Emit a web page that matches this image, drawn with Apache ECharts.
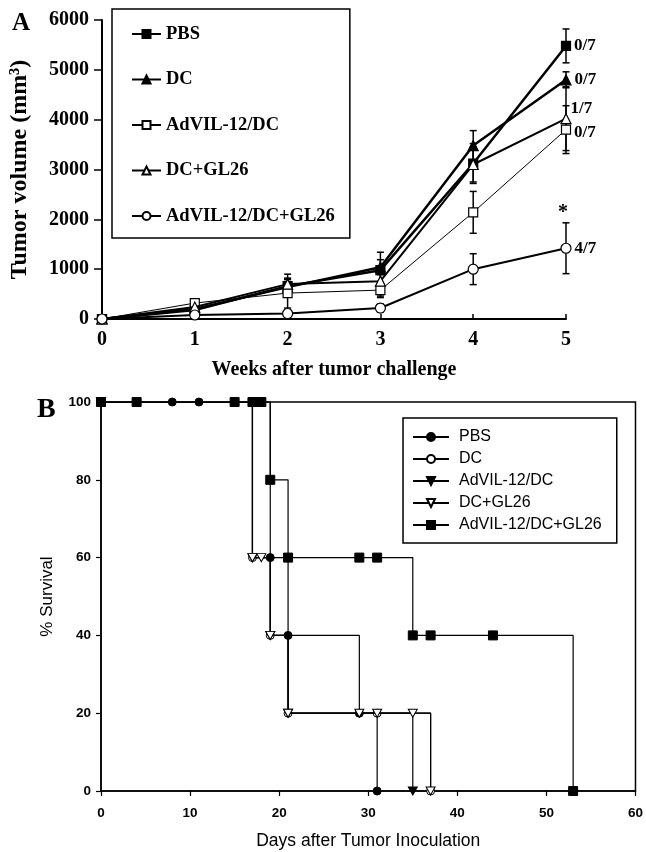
<!DOCTYPE html>
<html>
<head>
<meta charset="utf-8">
<script src="https://cdn.jsdelivr.net/npm/echarts@6/dist/echarts.min.js"></script>
<style>
  html, body { margin: 0; padding: 0; background: #fff; }
  #chart { width: 646px; height: 852px; }
</style>
</head>
<body>
<div id="chart"></div>
<script>
// ---- Panel A: tumor growth (mean ± SD) ----
const weeks = [0, 1, 2, 3, 4, 5];
const groupNames = ['PBS', 'DC', 'AdVIL-12/DC', 'DC+GL26', 'AdVIL-12/DC+GL26'];

const volPBS     = [0, 180, 660, 980, 3120, 5480];
const volDC      = [0, 200, 640, 1040, 3480, 4800];
const volIL12DC  = [0, 320, 520, 580, 2140, 3800];
const volDCGL26  = [0, 240, 700, 760, 3100, 4020];
const volCombo   = [0, 80, 110, 220, 1000, 1420];

const sdPBS     = [0, 50, 150, 360, 400, 340];
const sdDC      = [0, 50, 150, 150, 300, 160];
const sdIL12DC  = [0, 40, 300, 150, 420, 480];
const sdDCGL26  = [0, 50, 200, 300, 350, 640];
const sdCombo   = [0, 30, 40, 80, 310, 510];

// tumor-free mice at week 5, per group
const tumorFreeWeek5 = ['0/7', '0/7', '0/7', '1/7', '4/7'];

const volTicks = [0, 1000, 2000, 3000, 4000, 5000, 6000];

// ---- Panel B: Kaplan–Meier survival ([day, % survival]) ----
const survPBS    = [[0,100],[8,100],[11,100],[19,60],[21,40],[29,20],[31,0]];
const survDC     = [[0,100],[17,60],[19,40],[21,20],[31,20],[37,0]];
const survIL12DC = [[0,100],[17,60],[19,40],[21,20],[35,0]];
const survDCGL26 = [[0,100],[17,60],[18,60],[19,40],[21,20],[29,20],[31,20],[35,20],[37,0]];
const survCombo  = [[0,100],[4,100],[15,100],[17,100],[18,100],[19,80],[21,60],[29,60],[31,60],[35,40],[37,40],[44,40],[53,0]];

const SERIF = '"Liberation Serif", "Times New Roman", serif';
const SANS = '"Liberation Sans", Arial, sans-serif';
const BLACK = '#000';
const downTri = 'path://M0,0 L10,0 L5,9 Z';

const chart = echarts.init(document.getElementById('chart'), null, { renderer: 'canvas' });

// per-series styling for panel A
const stylesA = [
  { symbol: 'rect',     fill: BLACK,  lw: 2.5, size: 9 },
  { symbol: 'triangle', fill: BLACK,  lw: 2.5, size: 10 },
  { symbol: 'rect',     fill: '#fff', lw: 1,   size: 9 },
  { symbol: 'triangle', fill: '#fff', lw: 2,   size: 10 },
  { symbol: 'circle',   fill: '#fff', lw: 2,   size: 10 }
];
const volumesA = [volPBS, volDC, volIL12DC, volDCGL26, volCombo];
const sdsA = [sdPBS, sdDC, sdIL12DC, sdDCGL26, sdCombo];
const labelOffsetsA = [[0, 0], [0, 0], [0, 3], [-4, -10], [0, 0]];

// error bars: [week, low, high]
const errData = [];
volumesA.forEach((vals, g) => {
  vals.forEach((v, i) => {
    if (sdsA[g][i] > 0) errData.push([weeks[i], v - sdsA[g][i], v + sdsA[g][i]]);
  });
});

const seriesA = volumesA.map((vals, g) => ({
  name: groupNames[g],
  type: 'line',
  xAxisIndex: 0, yAxisIndex: 0,
  data: vals.map((v, i) => [weeks[i], v]),
  symbol: stylesA[g].symbol,
  symbolSize: stylesA[g].size,
  showAllSymbol: true,
  z: 3 + g,
  lineStyle: { color: BLACK, width: stylesA[g].lw },
  itemStyle: { color: stylesA[g].fill, borderColor: BLACK, borderWidth: 1.2 },
  emphasis: { disabled: true },
  label: {
    show: true,
    position: 'right',
    distance: 3,
    offset: labelOffsetsA[g],
    fontFamily: SERIF, fontWeight: 'bold', fontSize: 17, color: BLACK,
    formatter: p => (p.dataIndex === weeks.length - 1 ? tumorFreeWeek5[g] : '')
  },
  markPoint: g === 4 ? {
    symbol: 'circle', symbolSize: 0,
    data: [{ coord: [weeks[5], vals[5] + sdsA[g][5]] }],
    label: { show: true, formatter: '*', position: 'top', distance: 2,
             fontFamily: SERIF, fontWeight: 'bold', fontSize: 20, color: BLACK, offset: [-3, 2] }
  } : undefined
}));

const errSeries = {
  type: 'custom',
  xAxisIndex: 0, yAxisIndex: 0,
  data: errData,
  z: 2,
  silent: true,
  renderItem: (params, api) => {
    const x = api.value(0);
    const top = api.coord([x, api.value(2)]);
    const bot = api.coord([x, api.value(1)]);
    const cap = 3.5;
    const st = { stroke: BLACK, lineWidth: 1.5 };
    return {
      type: 'group',
      children: [
        { type: 'line', shape: { x1: top[0], y1: top[1], x2: bot[0], y2: bot[1] }, style: st },
        { type: 'line', shape: { x1: top[0] - cap, y1: top[1], x2: top[0] + cap, y2: top[1] }, style: st },
        { type: 'line', shape: { x1: bot[0] - cap, y1: bot[1], x2: bot[0] + cap, y2: bot[1] }, style: st }
      ]
    };
  }
};

// per-series styling for panel B
const survSets = [survPBS, survDC, survIL12DC, survDCGL26, survCombo];
const stylesB = [
  { symbol: 'circle', fill: BLACK,  size: 8 },
  { symbol: 'circle', fill: '#fff', size: 8 },
  { symbol: downTri,  fill: BLACK,  size: [9, 8] },
  { symbol: downTri,  fill: '#fff', size: [9, 8] },
  { symbol: 'rect',   fill: BLACK,  size: 9 }
];
const namesB = groupNames.map(n => 'KM ' + n);

const seriesB = survSets.map((pts, g) => ({
  name: namesB[g],
  type: 'line',
  xAxisIndex: 1, yAxisIndex: 1,
  step: 'end',
  data: pts,
  symbol: stylesB[g].symbol,
  symbolSize: stylesB[g].size,
  showAllSymbol: true,
  z: 3 + g,
  lineStyle: { color: BLACK, width: 1.2 },
  itemStyle: { color: stylesB[g].fill, borderColor: BLACK, borderWidth: 1 },
  emphasis: { disabled: true }
}));

const option = {
  backgroundColor: '#fff',
  animation: false,
  grid: [
    { left: 101, right: 80, top: 20, bottom: 533, containLabel: false },
    { left: 101, right: 5, top: 402, bottom: 61, containLabel: false,
      show: true, borderColor: BLACK, borderWidth: 1.5, backgroundColor: 'transparent' }
  ],
  xAxis: [
    {
      gridIndex: 0, type: 'value', min: 0, max: 5, interval: 1,
      name: 'Weeks after tumor challenge', nameLocation: 'middle', nameGap: 41,
      nameTextStyle: { fontFamily: SERIF, fontWeight: 'bold', fontSize: 20, color: BLACK },
      axisLine: { show: true, onZero: false, lineStyle: { color: BLACK, width: 2 } },
      axisTick: { show: true, inside: true, length: 5, lineStyle: { color: BLACK, width: 1.5 } },
      axisLabel: { margin: 11, fontFamily: SERIF, fontWeight: 'bold', fontSize: 20, color: BLACK },
      splitLine: { show: false }
    },
    {
      gridIndex: 1, type: 'value', min: 0, max: 60, interval: 10,
      name: 'Days after Tumor Inoculation', nameLocation: 'middle', nameGap: 41,
      nameTextStyle: { fontFamily: SANS, fontSize: 17.5, color: BLACK },
      axisLine: { show: true, onZero: false, lineStyle: { color: BLACK, width: 1.5 } },
      axisTick: { show: true, length: 5, lineStyle: { color: BLACK, width: 1.2 } },
      axisLabel: { margin: 15, fontFamily: SANS, fontWeight: 'bold', fontSize: 13.5, color: BLACK },
      splitLine: { show: false }
    }
  ],
  yAxis: [
    {
      gridIndex: 0, type: 'value', min: volTicks[0], max: volTicks[volTicks.length - 1], interval: 1000,
      name: 'Tumor volume (mm³)', nameLocation: 'middle', nameGap: 70, nameRotate: 90,
      nameTextStyle: { fontFamily: SERIF, fontWeight: 'bold', fontSize: 24, color: BLACK },
      axisLine: { show: true, onZero: false, lineStyle: { color: BLACK, width: 2 } },
      axisTick: { show: true, length: 8, lineStyle: { color: BLACK, width: 1.5 } },
      axisLabel: { margin: 13, fontFamily: SERIF, fontWeight: 'bold', fontSize: 20, color: BLACK,
                   formatter: v => String(v) },
      splitLine: { show: false }
    },
    {
      gridIndex: 1, type: 'value', min: 0, max: 100, interval: 20,
      name: '% Survival', nameLocation: 'middle', nameGap: 45, nameRotate: 90,
      nameTextStyle: { fontFamily: SANS, fontSize: 17, color: BLACK },
      axisLine: { show: true, onZero: false, lineStyle: { color: BLACK, width: 1.5 } },
      axisTick: { show: true, length: 5, lineStyle: { color: BLACK, width: 1.2 } },
      axisLabel: { margin: 10, fontFamily: SANS, fontWeight: 'bold', fontSize: 13.5, color: BLACK },
      splitLine: { show: false }
    }
  ],
  legend: [
    {
      data: groupNames,
      orient: 'vertical', left: 112, top: 9,
      padding: [15, 15, 12, 19],
      itemWidth: 29, itemHeight: 10, itemGap: 25.5,
      borderColor: BLACK, borderWidth: 1.5,
      selectedMode: false,
      textStyle: { fontFamily: SERIF, fontWeight: 'bold', fontSize: 18.5, color: BLACK, lineHeight: 20 }
    },
    {
      data: namesB,
      formatter: n => n.replace(/^KM /, ''),
      orient: 'vertical', left: 403, top: 418,
      padding: [10, 15, 9, 9],
      itemWidth: 36, itemHeight: 10, itemGap: 4,
      borderColor: BLACK, borderWidth: 1.5,
      selectedMode: false,
      textStyle: { fontFamily: SANS, fontSize: 16, color: BLACK, lineHeight: 18, padding: [0, 0, 0, 5] }
    }
  ],
  graphic: [
    { type: 'text', left: 12, top: 11, style: { text: 'A', font: 'bold 25px ' + SERIF, fill: BLACK } },
    { type: 'text', left: 37, top: 396, style: { text: 'B', font: 'bold 28px ' + SERIF, fill: BLACK } }
  ],
  series: [errSeries, ...seriesA, ...seriesB]
};

chart.setOption(option);
</script>
</body>
</html>
